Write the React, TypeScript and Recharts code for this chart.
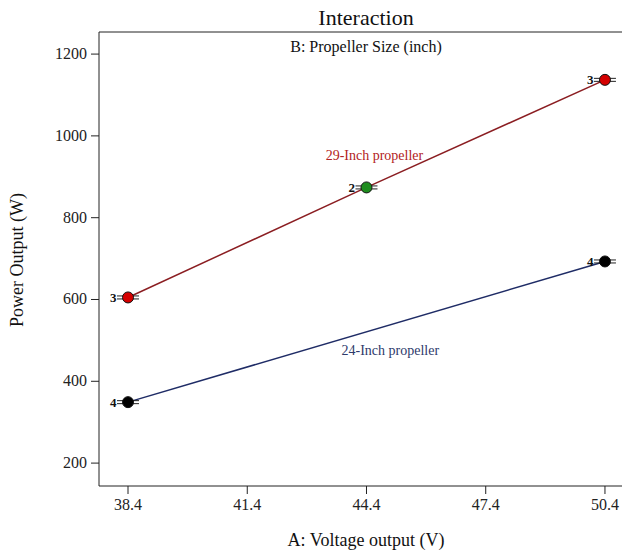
import React from 'react';
import { LineChart, Line, XAxis, YAxis, ReferenceLine, ReferenceDot } from 'recharts';

// A: Voltage output (V)
const voltage29 = [38.4, 44.4, 50.4];
const power29 = [605, 874, 1137];
const runs29 = [3, 2, 3];

const voltage24 = [38.4, 50.4];
const power24 = [349, 693];
const runs24 = [4, 4];

const xTicks = [38.4, 41.4, 44.4, 47.4, 50.4];
const yTicks = [200, 400, 600, 800, 1000, 1200];
const xDomain = [37.67, 51.03];
const yDomain = [144, 1254];

const FONT = '"Liberation Serif", "DejaVu Serif", serif';

const data29 = voltage29.map((v, i) => ({
  v,
  p: power29[i],
  n: runs29[i],
  fill: i === 1 ? '#1e8c1e' : '#d40000',
}));
const data24 = voltage24.map((v, i) => ({ v, p: power24[i], n: runs24[i], fill: '#000000' }));

const DesignDot = (props: any) => {
  const { cx, cy, payload } = props;
  if (cx == null || cy == null) return null;
  return (
    <g>
      <line x1={cx - 11} x2={cx - 5} y1={cy - 1.5} y2={cy - 1.5} stroke="#222" strokeWidth={1} />
      <line x1={cx - 11} x2={cx - 5} y1={cy + 1.5} y2={cy + 1.5} stroke="#222" strokeWidth={1} />
      <line x1={cx + 5} x2={cx + 11} y1={cy - 1.5} y2={cy - 1.5} stroke="#222" strokeWidth={1} />
      <line x1={cx + 5} x2={cx + 11} y1={cy + 1.5} y2={cy + 1.5} stroke="#222" strokeWidth={1} />
      <circle cx={cx} cy={cy} r={5.5} fill={payload.fill} stroke="#111" strokeWidth={1} />
      <text
        x={cx - 11.5}
        y={cy + 4.5}
        textAnchor="end"
        fontSize={13}
        fontWeight="bold"
        fontFamily={FONT}
        fill="#111"
      >
        {payload.n}
      </text>
    </g>
  );
};

const XTick = (props: any) => {
  const { x, y, payload } = props;
  return (
    <text x={x} y={y + 14} textAnchor="middle" fontSize={16} fontFamily={FONT} fill="#222">
      {Number(payload.value).toFixed(1)}
    </text>
  );
};

const YTick = (props: any) => {
  const { x, y, payload } = props;
  return (
    <text x={x - 2} y={y + 5} textAnchor="end" fontSize={16} fontFamily={FONT} fill="#222">
      {payload.value}
    </text>
  );
};

const titleStyle: React.CSSProperties = {
  position: 'absolute',
  fontFamily: FONT,
  color: '#111',
  whiteSpace: 'nowrap',
  lineHeight: 1,
  transform: 'translateX(-50%)',
};

export default function App() {
  return (
    <div style={{ position: 'relative', width: 622, height: 546 }}>
      <LineChart
        width={622}
        height={546}
        margin={{ top: 24, right: 0, left: 0, bottom: 0 }}
      >
        <XAxis
          type="number"
          dataKey="v"
          domain={xDomain}
          ticks={xTicks}
          allowDataOverflow
          height={68}
          tickSize={8}
          tickMargin={2}
          stroke="#222"
          tick={<XTick />}
        />
        <YAxis
          type="number"
          dataKey="p"
          domain={yDomain}
          ticks={yTicks}
          allowDataOverflow
          width={91}
          tickSize={8}
          tickMargin={2}
          stroke="#222"
          tick={<YTick />}
        />
        <ReferenceLine y={yDomain[1]} stroke="#222" strokeWidth={1} />
        <Line
          data={data29}
          dataKey="p"
          stroke="#8b1e22"
          strokeWidth={1.5}
          dot={<DesignDot />}
          activeDot={false}
          isAnimationActive={false}
        />
        <Line
          data={data24}
          dataKey="p"
          stroke="#1f2c66"
          strokeWidth={1.5}
          dot={<DesignDot />}
          activeDot={false}
          isAnimationActive={false}
        />
        <ReferenceDot
          x={44.6}
          y={954}
          r={0}
          label={{ value: '29-Inch propeller', fill: '#b22222', fontSize: 14, fontFamily: FONT, position: 'center' }}
        />
        <ReferenceDot
          x={45.0}
          y={476}
          r={0}
          label={{ value: '24-Inch propeller', fill: '#2e3a6b', fontSize: 14, fontFamily: FONT, position: 'center' }}
        />
      </LineChart>
      <div style={{ ...titleStyle, left: 358, top: -1, fontSize: 22 }}>Interaction</div>
      <div style={{ ...titleStyle, left: 358, top: 31, fontSize: 16 }}>B: Propeller Size (inch)</div>
      <div style={{ ...titleStyle, left: 358, top: 523, fontSize: 18 }}>A: Voltage output (V)</div>
      <div
        style={{
          position: 'absolute',
          left: 9,
          top: 252,
          fontFamily: FONT,
          fontSize: 18,
          lineHeight: 1,
          color: '#111',
          whiteSpace: 'nowrap',
          transform: 'translate(-50%, -50%) rotate(-90deg)',
        }}
      >
        Power Output (W)
      </div>
    </div>
  );
}
